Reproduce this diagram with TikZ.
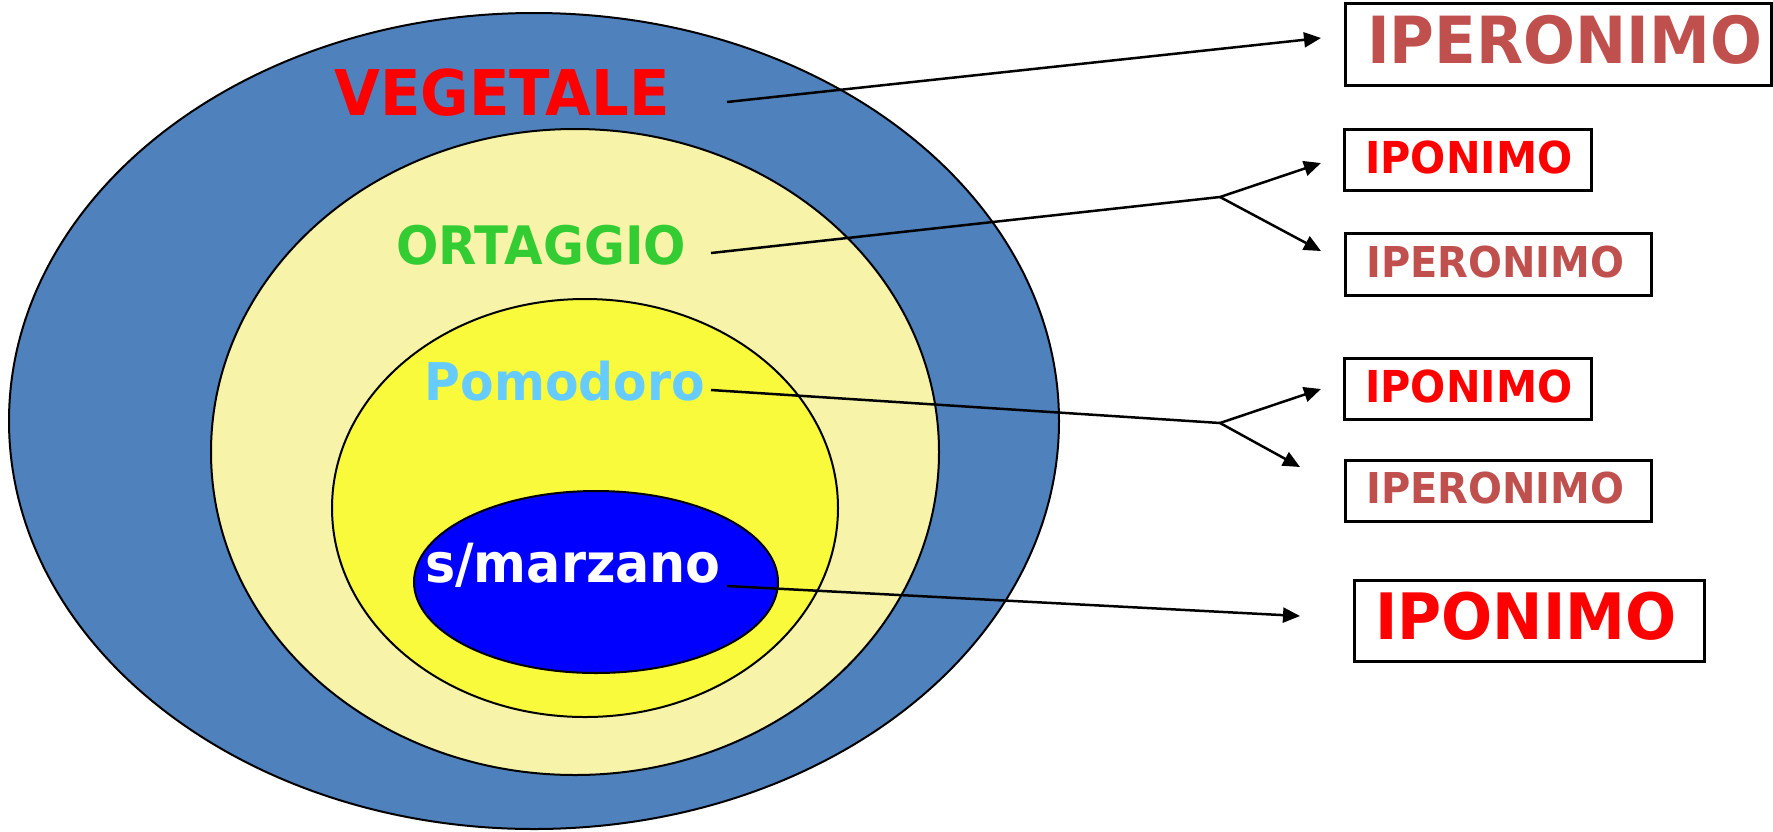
\documentclass[tikz,border=0pt]{standalone}
\usepackage{fontspec}
\usetikzlibrary{arrows.meta}
\newfontfamily\tah[FakeStretch=0.94]{DejaVu Sans}
\definecolor{outerblue}{RGB}{79,129,189}
\definecolor{paleyellow}{RGB}{247,243,168}
\definecolor{brightyellow}{RGB}{250,250,60}
\definecolor{pureblue}{RGB}{0,0,255}
\definecolor{pomocol}{RGB}{102,204,255}
\definecolor{ortcol}{RGB}{51,204,51}
\definecolor{iperred}{RGB}{192,80,77}
\definecolor{ipored}{RGB}{255,0,0}
\tikzset{
  ring/.style={draw=black, line width=2pt},
  lab/.style={inner sep=0pt, anchor=base, font=\tah\bfseries},
  wordbox/.style={draw=black, line width=2.5pt, inner ysep=0pt, align=flush left, anchor=north west, font=\tah\bfseries},
  conn/.style={draw=black, line width=2.5pt},
  arr/.style={conn, -{Triangle[length=17pt,width=15pt]}}
}
\begin{document}
\begin{tikzpicture}[x=1pt,y=-1pt]
\useasboundingbox (0,0) rectangle (1773,831);
% ellipses
\fill[white] (0,0) rectangle (1773,831);
\draw[ring, fill=outerblue] (534,421) ellipse [x radius=525, y radius=408];
\draw[ring, fill=paleyellow] (575,452) ellipse [x radius=364, y radius=323];
\draw[ring, fill=brightyellow] (585,508) ellipse [x radius=253, y radius=209];
\draw[ring, fill=pureblue] (596,582) ellipse [x radius=182, y radius=91];
% labels
\node[lab, text=ipored, font=\tah\bfseries\fontsize{63}{70}\selectfont] (veg) at (502,115) {VEGETALE};
\node[lab, text=ortcol, font=\tah\bfseries\fontsize{53}{60}\selectfont] (ort) at (541,264) {ORTAGGIO};
\node[lab, text=pomocol, font=\tah\bfseries\fontsize{52}{60}\selectfont] (pom) at (565,400) {Pomodoro};
\node[lab, text=white, font=\tah\bfseries\fontsize{54}{60}\selectfont] (smz) at (573,582) {s/marzano};
% boxes
\node[wordbox, text=iperred, font=\tah\bfseries\fontsize{65}{70}\selectfont, minimum height=82pt, text width=382pt, inner xsep=22pt, text depth=10pt] (b1) at (1344,2) {IPERONIMO};
\node[wordbox, text=ipored, font=\tah\bfseries\fontsize{44}{50}\selectfont, minimum height=61pt, text width=205pt, inner xsep=21pt, text depth=5pt] (b2) at (1343,128) {IPONIMO};
\node[wordbox, text=iperred, font=\tah\bfseries\fontsize{42.5}{50}\selectfont, minimum height=62pt, text width=264pt, inner xsep=21pt, text depth=6pt] (b3) at (1344,232) {IPERONIMO};
\node[wordbox, text=ipored, font=\tah\bfseries\fontsize{44}{50}\selectfont, minimum height=61pt, text width=205pt, inner xsep=21pt, text depth=5pt] (b4) at (1343,357) {IPONIMO};
\node[wordbox, text=iperred, font=\tah\bfseries\fontsize{42.5}{50}\selectfont, minimum height=61pt, text width=264pt, inner xsep=21pt, text depth=6pt] (b5) at (1344,459) {IPERONIMO};
\node[wordbox, text=ipored, font=\tah\bfseries\fontsize{64}{70}\selectfont, minimum height=81pt, text width=308pt, inner xsep=21pt, text depth=11pt] (b6) at (1353,579) {IPONIMO};
% connector points
\coordinate (s1) at (727,102);
\coordinate (e1) at (1321,38);
\coordinate (s2) at (711,253);
\coordinate (j2) at (1220,197);
\coordinate (e2a) at (1321,163);
\coordinate (e2b) at (1321,251);
\coordinate (s3) at (711,390);
\coordinate (j3) at (1220,423);
\coordinate (e3a) at (1321,389);
\coordinate (e3b) at (1300,467);
\coordinate (s4) at (727,586);
\coordinate (e4) at (1300,616);
% connectors
\draw[arr] (s1) -- (e1);
\draw[conn] (s2) -- (j2);
\draw[arr] (j2) -- (e2a);
\draw[arr] (j2) -- (e2b);
\draw[conn] (s3) -- (j3);
\draw[arr] (j3) -- (e3a);
\draw[arr] (j3) -- (e3b);
\draw[arr] (s4) -- (e4);
\end{tikzpicture}
\end{document}
